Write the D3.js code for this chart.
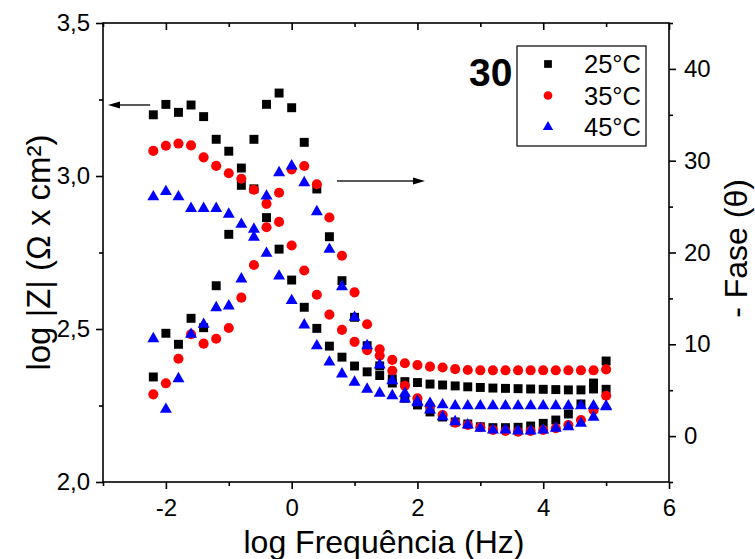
<!DOCTYPE html>
<html>
<head>
<meta charset="utf-8">
<script src="https://cdnjs.cloudflare.com/ajax/libs/d3/7.8.5/d3.min.js"></script>
<style>
	body { margin: 0; background: #ffffff; }
	text { font-family: "Liberation Sans", Arial, sans-serif; fill: #000; }
</style>
</head>
<body>
<div id="chart"></div>
<script>

// (data) log frequency of each measured point
var logFreq = [-2.2, -2.0, -1.8, -1.6, -1.4, -1.2, -1.0, -0.8, -0.6, -0.4, -0.2, 0.0, 0.2, 0.4, 0.6, 0.8, 1.0, 1.2, 1.4,
	1.6, 1.8, 2.0, 2.2, 2.4, 2.6, 2.8, 3.0, 3.2, 3.4, 3.6, 3.8, 4.0, 4.2, 4.4, 4.6, 4.8, 5.0];

// (data) log |Z| per temperature (left axis)
var zMod25 = [3.200, 3.234, 3.208, 3.232, 3.194, 3.120, 3.081, 3.026, 2.958, 2.864, 2.761, 2.660, 2.571, 2.502, 2.444, 2.408, 2.379, 2.360, 2.348,
	2.337, 2.328, 2.325, 2.320, 2.317, 2.314, 2.311, 2.309, 2.307, 2.306, 2.305, 2.304, 2.303, 2.302, 2.301, 2.301, 2.304, 2.303];
var zMod35 = [3.082, 3.099, 3.106, 3.100, 3.061, 3.033, 3.009, 2.991, 2.955, 2.909, 2.850, 2.773, 2.691, 2.612, 2.547, 2.497, 2.458, 2.431, 2.413,
	2.399, 2.388, 2.382, 2.377, 2.374, 2.369, 2.366, 2.365, 2.365, 2.365, 2.365, 2.365, 2.365, 2.365, 2.365, 2.365, 2.365, 2.368];
var zMod45 = [2.932, 2.949, 2.932, 2.894, 2.894, 2.894, 2.875, 2.842, 2.826, 2.747, 2.673, 2.593, 2.513, 2.445, 2.392, 2.353, 2.326, 2.303, 2.290,
	2.282, 2.271, 2.263, 2.257, 2.252, 2.249, 2.249, 2.249, 2.249, 2.249, 2.249, 2.249, 2.249, 2.249, 2.249, 2.249, 2.249, 2.248];

// (data) - phase per temperature (right axis)
var fase25 = [6.44, 11.20, 10.00, 12.83, 11.81, 16.38, 21.98, 27.32, 32.33, 36.14, 37.37, 35.77, 32.00, 26.92, 21.72, 16.93, 12.94, 9.85, 7.64,
	5.78, 4.12, 3.39, 2.63, 2.08, 1.54, 1.32, 1.02, 0.92, 0.92, 0.96, 1.10, 1.39, 1.75, 2.41, 3.50, 5.78, 8.18];
var fase35 = [4.55, 5.75, 8.43, 11.09, 10.07, 10.61, 11.78, 15.08, 18.64, 22.75, 26.51, 29.06, 29.42, 27.43, 23.81, 19.65, 15.66, 12.18, 9.46,
	7.12, 5.49, 4.12, 3.28, 2.30, 1.46, 1.21, 0.96, 0.66, 0.56, 0.48, 0.56, 0.66, 0.85, 1.21, 1.75, 2.81, 4.40];
var fase45 = [10.61, 2.92, 6.25, 11.09, 12.18, 13.99, 14.17, 17.11, 21.66, 26.15, 28.69, 29.42, 27.60, 24.44, 20.35, 16.27, 12.94, 9.85, 7.75,
	6.03, 4.66, 3.64, 2.84, 2.11, 1.57, 1.21, 0.85, 0.66, 0.66, 0.56, 0.56, 0.66, 0.85, 1.02, 1.39, 2.05, 3.20];

// (data) legend labels and tick values
var seriesNames = ["25°C", "35°C", "45°C"];
var xTicks = [-2, 0, 2, 4, 6];
var xMinor = [-3, -1, 1, 3, 5];
var zTicks = [2.0, 2.5, 3.0, 3.5];
var zMinor = [2.25, 2.75, 3.25];
var faseTicks = [0, 10, 20, 30, 40];
var faseMinor = [-5, 5, 15, 25, 35, 45];

var width = 755, height = 559;
var plot = {left: 103, right: 669, top: 23, bottom: 482};

var svg = d3.select("#chart")
	.append("svg")
	.attr("width", width)
	.attr("height", height);

// (scales) shared x, left |Z| and right phase
var x = d3.scaleLinear().domain([-3, 6]).range([plot.left, plot.right]);
var yZ = d3.scaleLinear().domain([2.0, 3.5]).range([plot.bottom, plot.top]);
var yF = d3.scaleLinear().domain([-5, 45]).range([plot.bottom, plot.top]);

var comma = function(d) { return d3.format(".1f")(d).replace(".", ","); };
var plain = function(d) { return String(d); };

// (axes) helper that draws one axis with major and minor ticks
function drawAxis(axisFn, scale, major, minor, fmt, tx, ty, pad) {
	var g = svg.append("g").attr("transform", "translate(" + tx + "," + ty + ")");
	g.append("g").call(axisFn(scale).tickValues(minor).tickSize(4).tickFormat(""));
	g.append("g").call(axisFn(scale).tickValues(major).tickSize(7).tickPadding(pad).tickFormat(fmt));
	g.selectAll("path.domain").remove();
	g.selectAll("line").attr("stroke", "#000").attr("stroke-width", 1.6);
	g.selectAll("text").attr("font-size", "24px").attr("font-family", "'Liberation Sans', Arial, sans-serif");
	return g;
}

drawAxis(d3.axisBottom, x, xTicks, xMinor, plain, 0, plot.bottom, 10);
drawAxis(d3.axisLeft, yZ, zTicks, zMinor, comma, plot.left, 0, 6);
drawAxis(d3.axisRight, yF, faseTicks, faseMinor, plain, plot.right, 0, 8);

// (topAxis) inward ticks on the top frame
var topAxis = svg.append("g").attr("transform", "translate(0," + plot.top + ")");
topAxis.append("g").call(d3.axisTop(x).tickValues(xMinor).tickSize(-4).tickFormat(""));
topAxis.append("g").call(d3.axisTop(x).tickValues(xTicks).tickSize(-7).tickFormat(""));
topAxis.selectAll("path.domain").remove();
topAxis.selectAll("line").attr("stroke", "#000").attr("stroke-width", 1.6);

// (frame) plot border
svg.append("rect")
	.attr("x", plot.left)
	.attr("y", plot.top)
	.attr("width", plot.right - plot.left)
	.attr("height", plot.bottom - plot.top)
	.attr("fill", "none")
	.attr("stroke", "#000")
	.attr("stroke-width", 1.6);

// (points) scatter markers for each series
var series = [
	{z: zMod25, f: fase25, color: "#000000", sym: d3.symbolSquare, size: 80},
	{z: zMod35, f: fase35, color: "#ff0000", sym: d3.symbolCircle, size: 80},
	{z: zMod45, f: fase45, color: "#0000ff", sym: d3.symbolTriangle, size: 62}
];

series.forEach(function(s) {
	var g = svg.append("g");
	var path = d3.symbol().type(s.sym).size(s.size)();
	[[s.z, yZ], [s.f, yF]].forEach(function(pair) {
		g.selectAll(null)
			.data(pair[0])
			.enter()
			.append("path")
			.attr("d", path)
			.attr("fill", s.color)
			.attr("transform", function(d, i) {
				return "translate(" + x(logFreq[i]) + "," + pair[1](d) + ")";
			});
	});
});

// (arrows) axis pointers
function arrow(x1, x2, yy) {
	var dir = x2 < x1 ? 1 : -1;
	svg.append("line")
		.attr("x1", x1).attr("x2", x2 + dir * 8)
		.attr("y1", yy).attr("y2", yy)
		.attr("stroke", "#222").attr("stroke-width", 1.5);
	svg.append("path")
		.attr("d", "M" + x2 + "," + yy + "L" + (x2 + dir * 12) + "," + (yy - 3.5) + "L" + (x2 + dir * 12) + "," + (yy + 3.5) + "Z")
		.attr("fill", "#000");
}
arrow(x(-2.25), x(-2.92), yZ(3.232));
arrow(x(0.72), x(2.12), yF(27.8));

// (label) sample tag
svg.append("text")
	.attr("x", 469)
	.attr("y", 86)
	.attr("font-size", "39px")
	.attr("font-weight", "bold")
	.text("30");

// (legend) boxed legend
var legend = svg.append("g");
legend.append("rect")
	.attr("x", 517).attr("y", 46)
	.attr("width", 129).attr("height", 100)
	.attr("fill", "#fff")
	.attr("stroke", "#000")
	.attr("stroke-width", 1.2);
series.forEach(function(s, i) {
	var yy = 64 + i * 31.5;
	legend.append("path")
		.attr("d", d3.symbol().type(s.sym).size(s.size * 0.75)())
		.attr("fill", s.color)
		.attr("transform", "translate(548," + yy + ")");
	legend.append("text")
		.attr("x", 584)
		.attr("y", yy + 9)
		.attr("font-size", "25.5px")
		.text(seriesNames[i]);
});

// (titles) axis titles
svg.append("text")
	.attr("x", (plot.left + plot.right) / 2 - 2)
	.attr("y", 553)
	.attr("text-anchor", "middle")
	.attr("font-size", "32px")
	.text("log Frequência (Hz)");

svg.append("text")
	.attr("transform", "translate(50," + ((plot.top + plot.bottom) / 2) + ") rotate(-90)")
	.attr("text-anchor", "middle")
	.attr("font-size", "33px")
	.text("log |Z| (Ω x cm²)");

svg.append("text")
	.attr("transform", "translate(747," + ((plot.top + plot.bottom) / 2 - 4) + ") rotate(-90)")
	.attr("text-anchor", "middle")
	.attr("font-size", "32px")
	.text("- Fase (θ)");

</script>
</body>
</html>
